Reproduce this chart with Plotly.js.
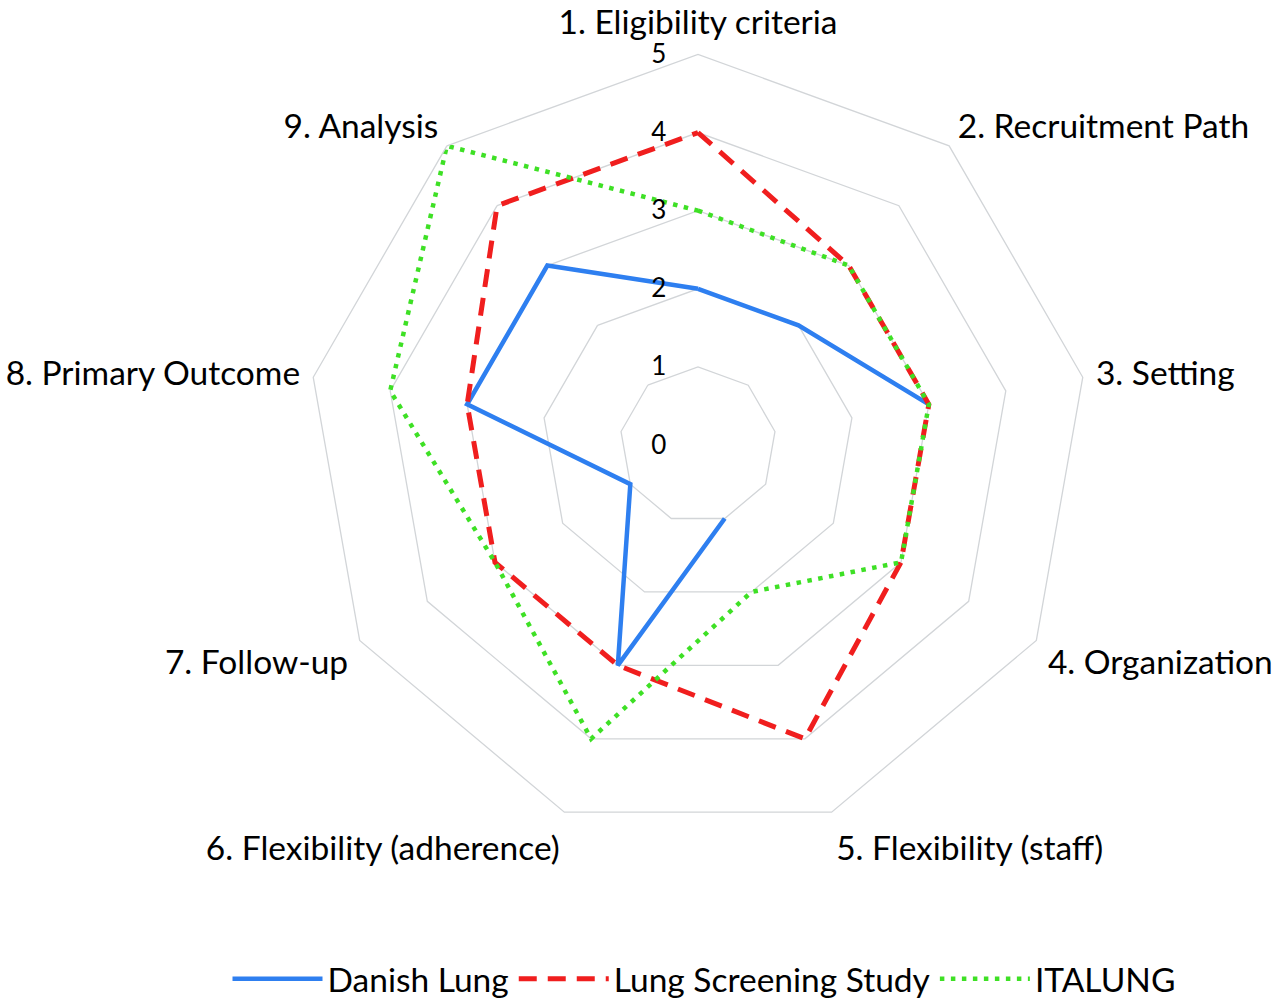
<!DOCTYPE html>
<html>
<head>
<meta charset="utf-8">
<script src="https://cdn.plot.ly/plotly-3.0.1.min.js"></script>
<style>html,body{margin:0;padding:0;background:#fff;}#chart{width:1280px;height:1008px;}</style>
</head>
<body>
<div id="chart"></div>
<script>
const categories = ["1. Eligibility criteria","2. Recruitment Path","3. Setting","4. Organization","5. Flexibility (staff)","6. Flexibility (adherence)","7. Follow-up","8. Primary Outcome","9. Analysis"];
const danishLung = [2, 2, 3, null, 1, 3, 1, 3, 3];
const lungScreening = [4, 3, 3, 3, 4, 3, 3, 3, 4];
const italung = [3, 3, 3, 3, 2, 4, 3, 4, 5];
const radialTicks = [0, 1, 2, 3, 4, 5];

function closeLoop(arr){ return arr.concat([arr[0]]); }
const theta = closeLoop(categories);

const FONT = "Lato, 'Open Sans', sans-serif";

const traces = [
  {type:'scatterpolar', mode:'lines', name:'Danish Lung', r: closeLoop(danishLung), theta: theta,
   connectgaps:false, line:{color:'#2e7ff0', width:4.5, dash:'solid'}},
  {type:'scatterpolar', mode:'lines', name:'Lung Screening Study', r: closeLoop(lungScreening), theta: theta,
   line:{color:'#f01e1e', width:5, dash:'18px,11px'}},
  {type:'scatterpolar', mode:'lines', name:'ITALUNG', r: closeLoop(italung), theta: theta,
   line:{color:'#3ee025', width:4.5, dash:'4.5px,6.5px'}}
];

const layout = {
  width:1280, height:1008,
  margin:{l:0, r:0, t:0, b:0},
  paper_bgcolor:'#fff', plot_bgcolor:'#fff',
  font:{family:FONT, color:'#000', size:33.5},
  showlegend:true,
  legend:{orientation:'h', x:0.55, xanchor:'center', y:0.018, yanchor:'middle',
          font:{family:FONT, size:33.5, color:'#000'}, itemwidth:90},
  polar:{
    domain:{x:[(698-395)/1280, (698+395)/1280], y:[1-845/1008, 1-55/1008]},
    gridshape:'linear',
    bgcolor:'#fff',
    radialaxis:{range:[0,5], tickvals:radialTicks, ticktext:radialTicks.map(String),
      angle:90, tickangle:90, showline:false, ticks:'outside', ticklen:22, tickcolor:'rgba(0,0,0,0)',
      showgrid:true, gridcolor:'#d2d5d8', gridwidth:1.3,
      tickfont:{family:FONT, size:26, color:'#000'}, side:'counterclockwise'},
    angularaxis:{direction:'clockwise', rotation:90, showgrid:false, showline:true,
      linecolor:'#d2d5d8', linewidth:1.3, ticks:'outside', ticklen:6, tickcolor:'rgba(0,0,0,0)',
      tickfont:{family:FONT, size:33.5, color:'#000'}}
  }
};

Plotly.newPlot('chart', traces, layout, {displayModeBar:false, staticPlot:true});
</script>
</body>
</html>
